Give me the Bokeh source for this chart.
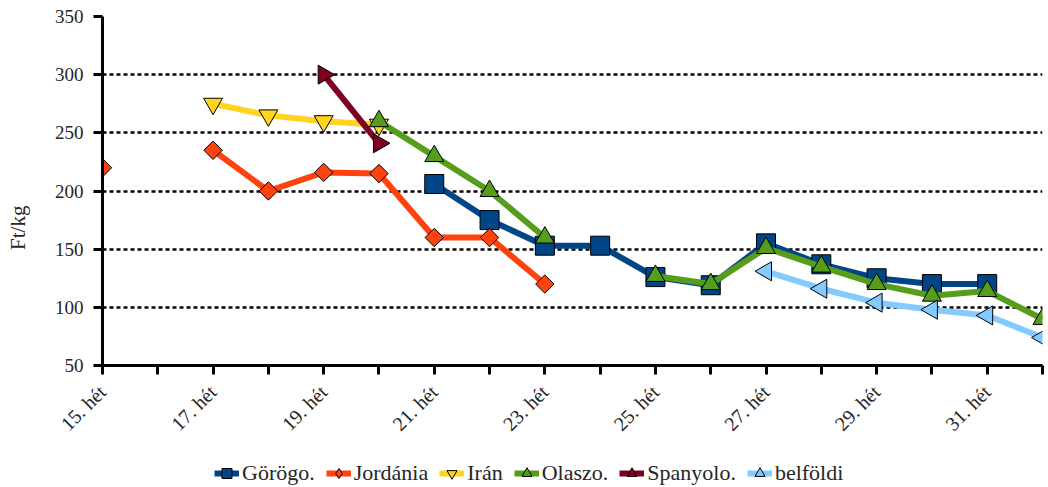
import math
from bokeh.plotting import figure
from bokeh.layouts import column
from bokeh.models import FixedTicker, Legend, LegendItem, Range1d
from bokeh.embed import file_html
from bokeh.resources import INLINE

nan = float("nan")
weeks = list(range(15, 33))
tick_labels = {w: (f"{w}. hét" if w % 2 == 1 else "") for w in weeks}
y_ticks = [50, 100, 150, 200, 250, 300, 350]

series_names = ["Görögo.", "Jordánia", "Irán", "Olaszo.", "Spanyolo.", "belföldi"]
gorogo   = [nan, nan, nan, nan, nan, nan, 206, 175, 153, 153, 126, 119, 155, 137, 125, 120, 120, nan]
jordania = [220, nan, 235, 200, 216, 215, 160, 160, 120, nan, nan, nan, nan, nan, nan, nan, nan, nan]
iran     = [nan, nan, 275, 265, 260, 257, nan, nan, nan, nan, nan, nan, nan, nan, nan, nan, nan, nan]
olaszo   = [nan, nan, nan, nan, nan, 260, 230, 200, 160, nan, 127, 120, 151, 135, 120, 110, 114, 90]
spanyolo = [nan, nan, nan, nan, 300, 241, nan, nan, nan, nan, nan, nan, nan, nan, nan, nan, nan, nan]
belfoldi = [nan, nan, nan, nan, nan, nan, nan, nan, nan, nan, nan, nan, 131, 116, 104, 98, 93, 74]

FONT = "Liberation Serif"
TXT = "#262626"

p = figure(width=1048, height=445, output_backend="svg", toolbar_location=None,
           x_range=Range1d(15, 32), y_range=Range1d(50, 350),
           min_border_left=102, min_border_right=6, min_border_top=16, min_border_bottom=77)
p.outline_line_color = None
p.xgrid.grid_line_color = None
p.ygrid.grid_line_color = "black"
p.ygrid.grid_line_dash = "4 3"
p.ygrid.grid_line_width = 2.5
p.ygrid.ticker = FixedTicker(ticks=y_ticks)

p.xaxis.ticker = FixedTicker(ticks=weeks)
p.xaxis.major_label_overrides = tick_labels
p.xaxis.major_label_orientation = math.pi / 4
p.yaxis.ticker = FixedTicker(ticks=y_ticks)
for ax in (p.xaxis[0], p.yaxis[0]):
    ax.axis_line_width = 3
    ax.axis_line_color = "black"
    ax.major_tick_line_width = 3
    ax.major_tick_line_color = "black"
    ax.major_tick_out = 9
    ax.major_tick_in = 0
    ax.minor_tick_line_color = None
    ax.major_label_text_font = FONT
    ax.major_label_text_color = TXT
p.yaxis.major_label_text_font_size = "19px"
p.xaxis.major_label_text_font_size = "20px"
p.yaxis.major_label_standoff = 10
p.xaxis.major_label_standoff = 14

p.yaxis.axis_label = "Ft/kg" + "\u00a0" * 14
p.yaxis.axis_label_text_font = FONT
p.yaxis.axis_label_text_font_size = "21px"
p.yaxis.axis_label_text_font_style = "normal"
p.yaxis.axis_label_text_color = TXT
p.yaxis.axis_label_standoff = 22

colors = ["#004586", "#ff420e", "#ffd320", "#579d1c", "#7e0021", "#83caff"]
markers = ["square", "square", "inverted_triangle", "triangle", "triangle", "triangle"]
legend_markers = ["square", "diamond", "inverted_triangle", "triangle", "triangle", "triangle"]
angles = [0, math.pi / 4, 0, 0, -math.pi / 2, math.pi / 2]
sizes = [19, 13, 19, 19, 19, 19]
data = [gorogo, jordania, iran, olaszo, spanyolo, belfoldi]

# legend strip as a second figure below the chart
lg = figure(width=1048, height=42, output_backend="svg", toolbar_location=None,
            x_range=Range1d(0, 1), y_range=Range1d(0, 1),
            min_border_left=0, min_border_right=0, min_border_top=0, min_border_bottom=0)
lg.axis.visible = False
lg.grid.visible = False
lg.outline_line_color = None

items = []
for name, vals, col, mk, lmk, ang, sz in zip(series_names, data, colors, markers,
                                             legend_markers, angles, sizes):
    p.line(weeks, vals, line_color=col, line_width=6)
    xs = [w for w, v in zip(weeks, vals) if not math.isnan(v)]
    ys = [v for v in vals if not math.isnan(v)]
    p.scatter(xs, ys, marker=mk, angle=ang, size=sz, fill_color=col,
              line_color="black", line_width=1)
    # off-screen proxies so the legend strip can draw the swatches
    lln = lg.line([-5, -4], [-5, -4], line_color=col, line_width=6)
    lsc = lg.scatter([-5], [-5], marker=lmk, angle=ang, size=sz, fill_color=col,
                     line_color="black", line_width=1)
    items.append(LegendItem(label=name, renderers=[lln, lsc]))

legend = Legend(items=items, orientation="horizontal", location=(112, 0),
                label_text_font=FONT, label_text_font_size="22px", label_text_color=TXT,
                glyph_width=25, glyph_height=28, spacing=11, label_standoff=3,
                padding=0, margin=0, border_line_color=None, background_fill_alpha=0)
lg.add_layout(legend, "center")

layout = column(p, lg, spacing=0)
open("out.html", "w").write(file_html(layout, INLINE))
